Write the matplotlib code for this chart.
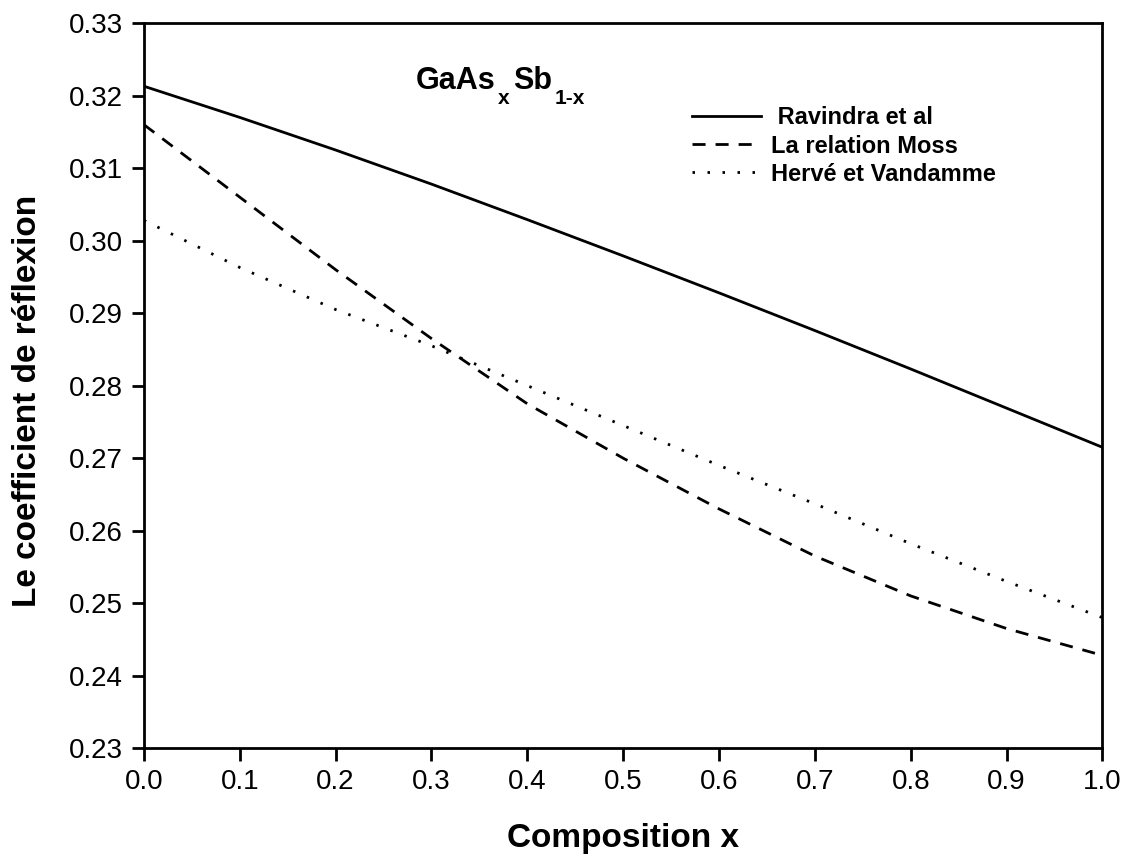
import matplotlib
matplotlib.use("Agg")
import matplotlib.pyplot as plt
from matplotlib.transforms import offset_copy

# Reflection coefficient of GaAs(x)Sb(1-x) versus composition
composition = [0.0, 0.1, 0.2, 0.3, 0.4, 0.5, 0.6, 0.7, 0.8, 0.9, 1.0]
ravindra = [0.3213, 0.3170, 0.3125, 0.3078, 0.3029, 0.2979, 0.2928, 0.2876, 0.2823, 0.2769, 0.2715]
moss = [0.3160, 0.3060, 0.2960, 0.2865, 0.2775, 0.2700, 0.2630, 0.2565, 0.2510, 0.2465, 0.2428]
herve = [0.3028, 0.2963, 0.2905, 0.2855, 0.2800, 0.2745, 0.2690, 0.2637, 0.2582, 0.2530, 0.2480]

series_labels = [" Ravindra et al", "La relation Moss", "Hervé et Vandamme"]
x_ticks = [0.0, 0.1, 0.2, 0.3, 0.4, 0.5, 0.6, 0.7, 0.8, 0.9, 1.0]
y_ticks = [0.23, 0.24, 0.25, 0.26, 0.27, 0.28, 0.29, 0.30, 0.31, 0.32, 0.33]

# compound formula as (text, is_subscript) pieces
formula = [("GaAs", False), ("x", True), ("Sb", False), ("1-x", True)]

plt.rcParams["font.family"] = ["Liberation Sans", "DejaVu Sans"]

fig = plt.figure(figsize=(11.33, 8.57), dpi=100)
ax = fig.add_axes([0.127, 0.127, 0.846, 0.846])

ax.plot(composition, ravindra, color="black", lw=2.0, ls="-", label=series_labels[0])
ax.plot(composition, moss, color="black", lw=2.0, ls=(0, (4.7, 3.6)), label=series_labels[1])
ax.plot(composition, herve, color="black", lw=2.0, ls=(0, (0.9, 4.5)), label=series_labels[2])

ax.set_xlim(0.0, 1.0)
ax.set_ylim(0.23, 0.33)
ax.set_xticks(x_ticks)
ax.set_xticklabels([f"{v:.1f}" for v in x_ticks])
ax.set_yticks(y_ticks)
ax.set_yticklabels([f"{v:.2f}" for v in y_ticks])
ax.tick_params(direction="out", length=9, width=2, labelsize=20, pad=6)

for sp in ax.spines.values():
    sp.set_linewidth(2)

ax.set_xlabel("Composition x", fontsize=24, fontweight="bold", labelpad=20)
ax.set_ylabel("Le coefficient de réflexion", fontsize=24, fontweight="bold")
ax.yaxis.set_label_coords(-0.105, 0.479)

leg = ax.legend(loc="upper left", bbox_to_anchor=(0.555, 0.908), frameon=False,
                fontsize=17, handlelength=2.9, handletextpad=0.45, labelspacing=0.22,
                borderpad=0.2)
for t in leg.get_texts():
    t.set_fontweight("bold")

# formula label with dropped subscripts, laid out piece by piece
fig.canvas.draw()
renderer = fig.canvas.get_renderer()
x_off = 0.0
for piece, is_sub in formula:
    size = 15 if is_sub else 22
    drop = -15 if is_sub else 0
    x_off += 3
    tr = offset_copy(ax.transAxes, fig=fig, x=x_off, y=drop, units="dots")
    t = ax.text(0.280, 0.909, piece, transform=tr, fontsize=size,
                fontweight="bold", ha="left", va="baseline")
    bb = t.get_window_extent(renderer=renderer)
    x_off += bb.width

fig.savefig("out.png", dpi=100)
